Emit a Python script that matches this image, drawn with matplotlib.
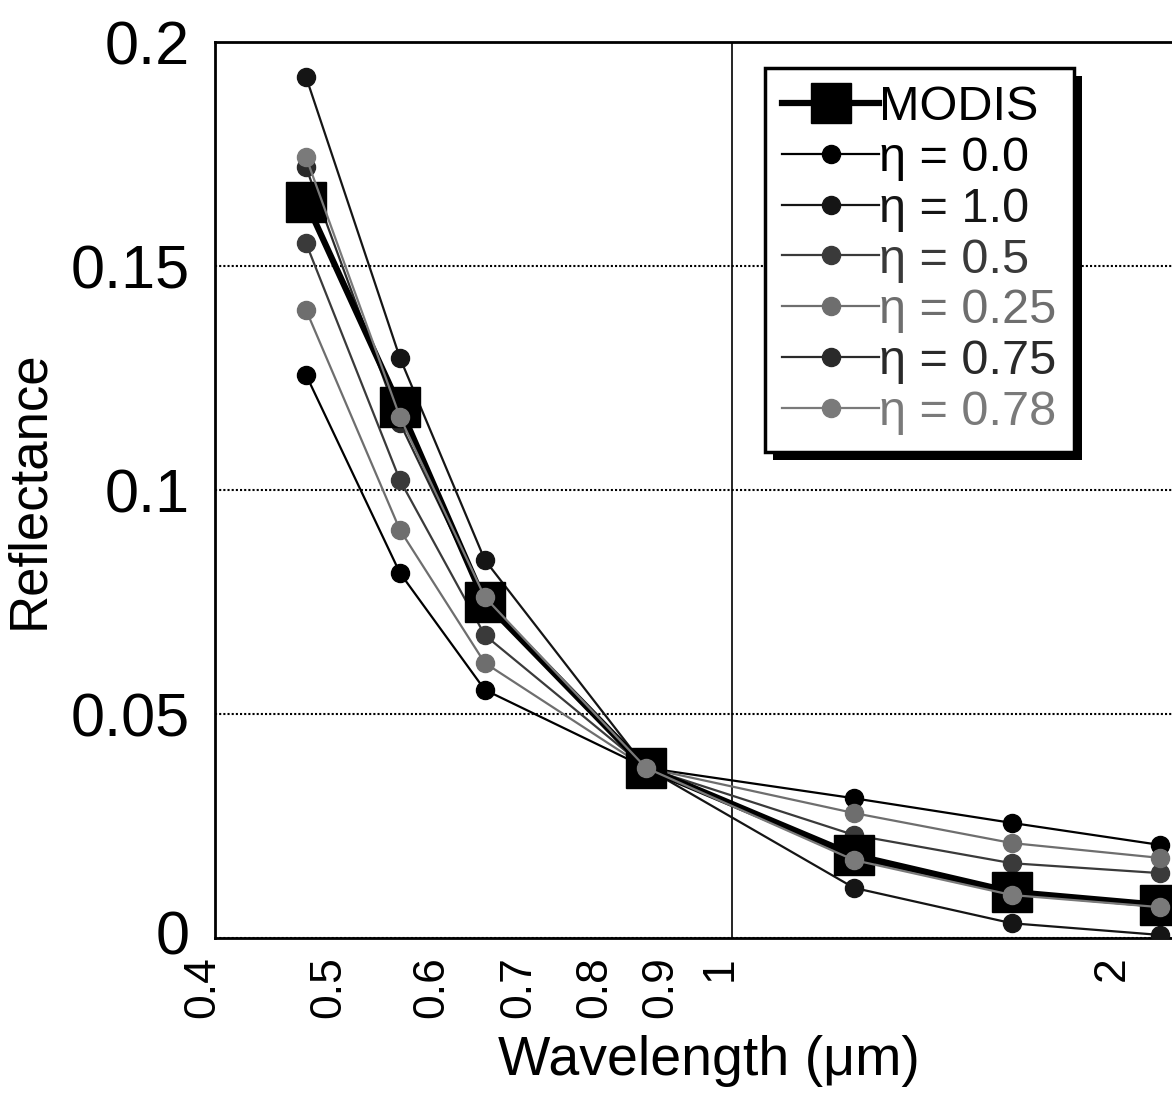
import matplotlib
matplotlib.use("Agg")
from matplotlib import pyplot as plt
from matplotlib.ticker import FixedLocator, FixedFormatter
from matplotlib.transforms import ScaledTranslation
from matplotlib.patches import Rectangle

plt.rcParams['font.family'] = ['Liberation Sans', 'DejaVu Sans']

# MODIS band centres (um)
wavelength = [0.47, 0.555, 0.645, 0.858, 1.24, 1.64, 2.13]

modis = [0.1643, 0.1185, 0.0750, 0.0380, 0.0185, 0.0103, 0.0074]
eta_00 = [0.1257, 0.0815, 0.0554, 0.0380, 0.0312, 0.0257, 0.0208]
eta_10 = [0.1922, 0.1295, 0.0844, 0.0380, 0.0112, 0.0033, 0.0007]
eta_05 = [0.1551, 0.1022, 0.0676, 0.0380, 0.0230, 0.0167, 0.0145]
eta_025 = [0.1402, 0.0911, 0.0614, 0.0380, 0.0279, 0.0212, 0.0179]
eta_075 = [0.1720, 0.1150, 0.0755, 0.0380, 0.0178, 0.0099, 0.0072]
eta_078 = [0.1743, 0.1163, 0.0761, 0.0380, 0.0174, 0.0096, 0.0069]

series = [
    ("\u03b7 = 0.0", eta_00, "#000000", 3),
    ("\u03b7 = 1.0", eta_10, "#151515", 3),
    ("\u03b7 = 0.5", eta_05, "#3a3a3a", 3),
    ("\u03b7 = 0.25", eta_025, "#6e6e6e", 3),
    ("\u03b7 = 0.75", eta_075, "#2a2a2a", 3),
    ("\u03b7 = 0.78", eta_078, "#7a7a7a", 6),
]

xticks_minor = [0.4, 0.5, 0.6, 0.7, 0.8, 0.9, 2]
xlabels_minor = ["0.4", "0.5", "0.6", "0.7", "0.8", "0.9", "2"]
yticks = [0, 0.05, 0.1, 0.15, 0.2]
ylabels = ["0", "0.05", "0.1", "0.15", "0.2"]

fig = plt.figure(figsize=(11.72, 10.97), dpi=100)
ax = fig.add_axes([0.1834, 0.1449, 0.843, 0.8168])

handles = []
h, = ax.plot(wavelength, modis, color="black", lw=4.5, marker="s",
             ms=29, zorder=5, label="MODIS")
handles.append(h)
for label, vals, col, z in series:
    h, = ax.plot(wavelength, vals, color=col, lw=1.6, marker="o", ms=13,
                 zorder=z, label=label)
    handles.append(h)

ax.set_xscale("log")
ax.set_xlim(0.4, 2.3)
ax.set_ylim(0, 0.2)

ax.xaxis.set_major_locator(FixedLocator([1]))
ax.xaxis.set_major_formatter(FixedFormatter(["1"]))
ax.xaxis.set_minor_locator(FixedLocator(xticks_minor))
ax.xaxis.set_minor_formatter(FixedFormatter(xlabels_minor))
ax.set_yticks(yticks)
ax.set_yticklabels(ylabels)

ax.tick_params(axis="x", which="both", length=0, labelsize=32,
               labelrotation=90, pad=13)
ax.tick_params(axis="y", length=0, labelsize=44, pad=18)

# scanned labels sit a bit left of their ticks
shift = ScaledTranslation(-0.12, 0, fig.dpi_scale_trans)
for lab in ax.get_xticklabels(which="both"):
    lab.set_transform(lab.get_transform() + shift)
# lift the "0" label slightly so it clears the rotated 0.4
ax.get_yticklabels()[0].set_transform(
    ax.get_yticklabels()[0].get_transform()
    + ScaledTranslation(0, 0.06, fig.dpi_scale_trans))

ax.grid(axis="y", color="black", lw=1.5, ls=(0, (1, 1)))
ax.grid(axis="x", which="major", color="black", lw=1.2, ls="-")
ax.set_axisbelow(True)

for s in ["left", "bottom", "top"]:
    ax.spines[s].set_linewidth(2)
ax.spines["right"].set_visible(False)

ax.set_xlabel("Wavelength (\u03bcm)", fontsize=40, labelpad=12)
ax.set_ylabel("Reflectance", fontsize=38, labelpad=12)

leg = ax.legend(handles=handles, loc="upper left",
                bbox_to_anchor=(0.557, 0.971), borderaxespad=0,
                fontsize=35, handlelength=2.0, handletextpad=0.0,
                labelspacing=0.12, borderpad=0.35, fancybox=False,
                framealpha=1)
leg.get_frame().set_edgecolor("black")
leg.get_frame().set_linewidth(2.5)
for txt, (label, vals, col, z) in zip(leg.get_texts()[1:], series):
    txt.set_color(col)

# heavy offset shadow behind the legend box
fig.canvas.draw()
bb = leg.get_window_extent()
ax.add_patch(Rectangle((bb.x0 + 8, bb.y0 - 8), bb.width, bb.height,
                       transform=None, facecolor="black", edgecolor="none",
                       zorder=4.9, clip_on=False))

fig.savefig("out.png", dpi=100)
